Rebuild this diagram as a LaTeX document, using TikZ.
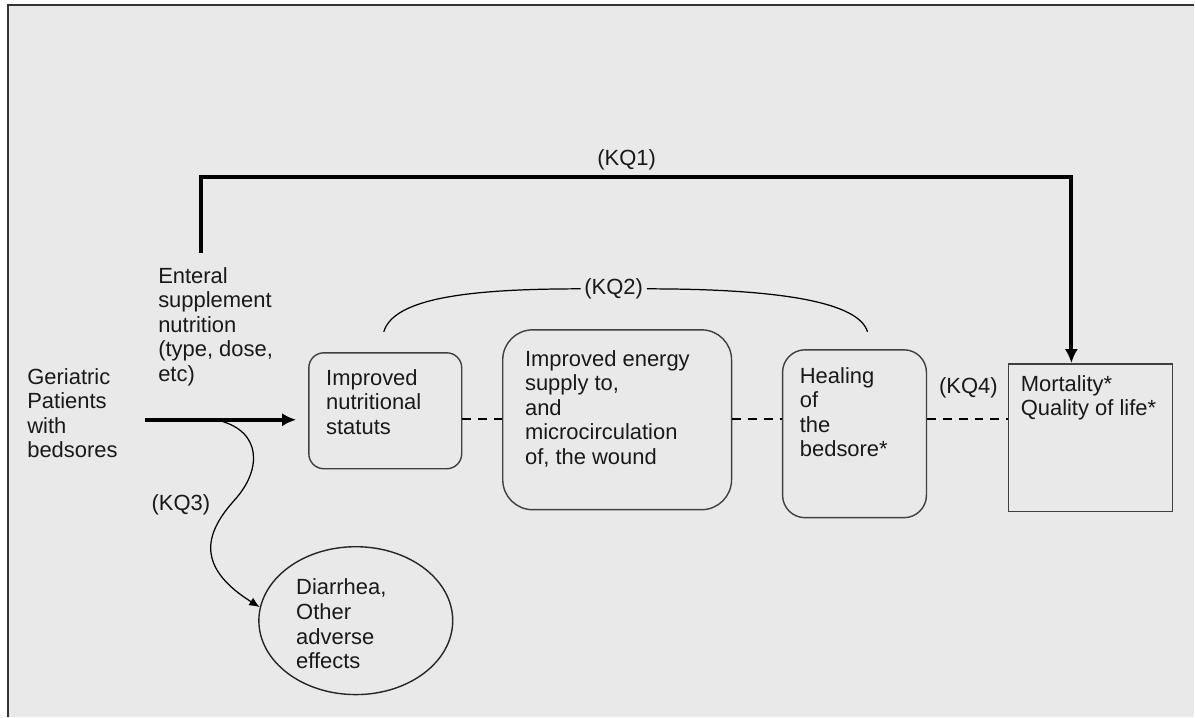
\documentclass[tikz,border=0pt]{standalone}
\usepackage{fontspec}
\setmainfont{Liberation Sans}
\usetikzlibrary{arrows.meta,shapes.geometric}
\definecolor{bg}{RGB}{233,233,233}

\begin{document}
\begin{tikzpicture}[x=0.02cm, y=-0.02cm,
	every node/.style={font=\fontsize{12.5}{14}\selectfont, text=black!90},
	txt/.style={anchor=north west, align=left, inner sep=0pt},
	ibox/.style={draw=black!75, line width=0.8pt, rounded corners=#1, inner sep=0pt},
	ibox/.default=0.3cm,
	heavy/.style={line width=2.2pt, -{Latex[length=8pt,width=7.5pt]}},
	dline/.style={line width=0.9pt, dash pattern=on 5pt off 4pt},
	kqarc/.style={line width=0.7pt}]
	% frame
	\fill[bg] (8,5) rectangle (1195,717);
	\draw[black!80, line width=0.8pt] (8,717) -- (8,5) -- (1195,5);
	\useasboundingbox (0,0) rectangle (1195,717);

	% boxes
	\node[ibox=0.3cm, minimum width=3.06cm, minimum height=2.32cm] (nut) at (385.5,411) {};
	\node[ibox=0.6cm, minimum width=4.58cm, minimum height=3.6cm] (wnd) at (617.5,420) {};
	\node[ibox=0.45cm, minimum width=2.88cm, minimum height=3.36cm] (heal) at (855,434) {};
	\node[draw=black!75, line width=0.8pt, inner sep=0pt, minimum width=3.28cm, minimum height=2.96cm] (mort) at (1091,438) {};
	\node[ellipse, draw=black!85, line width=0.8pt, inner sep=0pt, minimum width=3.88cm, minimum height=2.96cm] (adv) at (356,621) {};

	% texts
	\node[txt] (pat) at (27,368) {Geriatric\\Patients\\with\\bedsores};
	\node[txt] (ent) at (158,267) {Enteral\\supplement\\nutrition\\(type, dose,\\etc)};
	\node[txt] (nuttxt) at (326,369) {Improved\\nutritional\\statuts};
	\node[txt] (wndtxt) at (525,350) {Improved energy\\supply to,\\and\\microcirculation\\of, the wound};
	\node[txt] (healtxt) at (800,367) {Healing\\of\\the\\bedsore*};
	\node[txt] (morttxt) at (1021,375) {Mortality*\\Quality of life*};
	\node[txt] (advtxt) at (296,579) {Diarrhea,\\Other\\adverse\\effects};

	% key questions
	\node (kq1) at (627,160) {(KQ1)};
	\node[inner sep=2pt] (kq2) at (614,289) {(KQ2)};
	\node (kq3) at (181,505) {(KQ3)};
	\node (kq4) at (969,388) {(KQ4)};

	% connectors
	\coordinate (pst) at (145,420);
	\coordinate (kq3s) at (220,421);
	\coordinate (kq1s) at (201,253);
	\coordinate (kq1r) at (1072,177);
	\coordinate (lvl) at (0,419);
	\coordinate (a2) at (384,332);
	\coordinate (b2) at (868,332);

	\draw[heavy, shorten >=0.24cm] (pst) -- (nut.west |- pst);
	\draw[heavy] (kq1s) |- (kq1r) -- (kq1r |- mort.north);

	\draw[kqarc] (a2) .. controls +(10,-34) and +(-110,0) .. (kq2.west);
	\draw[kqarc] (kq2.east) .. controls +(110,0) and +(-10,-34) .. (b2);

	\draw[kqarc, -{Latex[length=6pt,width=5pt]}] (kq3s) .. controls (262,432) and (262,470) .. (235,500)
		.. controls (208,530) and (192,565) .. (adv.172);

	\draw[dline] (nut.east |- lvl) -- (wnd.west |- lvl);
	\draw[dline] (wnd.east |- lvl) -- (heal.west |- lvl);
	\draw[dline] (heal.east |- lvl) -- (mort.west |- lvl);
\end{tikzpicture}
\end{document}
